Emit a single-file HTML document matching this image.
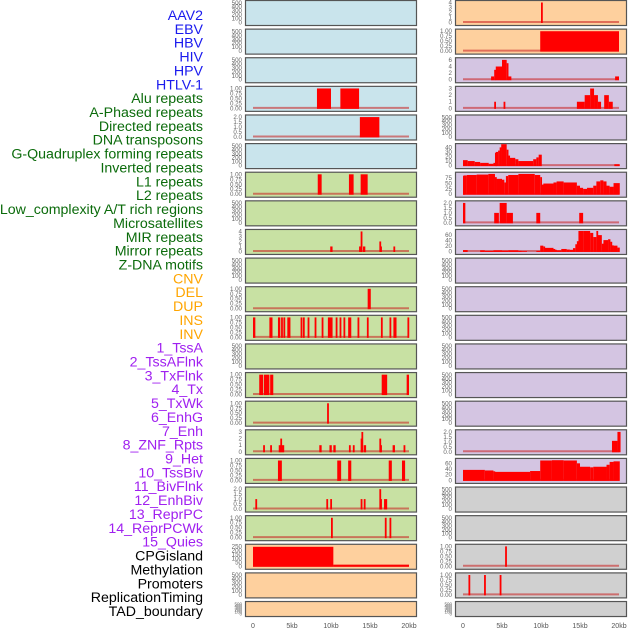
<!DOCTYPE html>
<html><head><meta charset="utf-8"><style>
html,body{margin:0;padding:0;background:#fff;width:630px;height:630px;overflow:hidden}
svg{display:block;font-family:"Liberation Sans",sans-serif}
</style></head><body>
<svg id="chart" width="630" height="630" viewBox="0 0 630 630"></svg>
<script>
const labels=["AAV2","EBV","HBV","HIV","HPV","HTLV-1","Alu repeats","A-Phased repeats","Directed repeats","DNA transposons","G-Quadruplex forming repeats","Inverted repeats","L1 repeats","L2 repeats","Low_complexity A/T rich regions","Microsatellites","MIR repeats","Mirror repeats","Z-DNA motifs","CNV","DEL","DUP","INS","INV","1_TssA","2_TssAFlnk","3_TxFlnk","4_Tx","5_TxWk","6_EnhG","7_Enh","8_ZNF_Rpts","9_Het","10_TssBiv","11_BivFlnk","12_EnhBiv","13_ReprPC","14_ReprPCWk","15_Quies","CPGisland","Methylation","Promoters","ReplicationTiming","TAD_boundary"];
const labelColors=[].concat(Array(6).fill("#1a1aee"),Array(13).fill("#0b6b0b"),Array(5).fill("#ffa500"),Array(15).fill("#a020f0"),Array(5).fill("#000"));
const xTicks=[0,5,10,15,20];
const xTickLabels=["0","5kb","10kb","15kb","20kb"];
const T500=[0,100,200,300,400,500],T1=[0,0.25,0.5,0.75,1],T2=[0,0.5,1,1.5,2];
// left column segments [startKb,endKb,value]
const L_HIV=[[8.2,10.0,1],[11.2,13.6,1]];
const L_HPV=[[13.7,16.2,2]];
const L_L1=[[8.3,8.8,1],[12.3,12.9,1],[13.8,14.7,1]];
const L_LowCx=[[9.9,10.2,1],[13.6,13.8,1],[13.8,14.0,4],[14.1,14.4,1],[16.2,16.3,2],[16.3,16.4,1],[18.0,18.2,1]];
const L_MIR=[[14.7,15.1,1]];
const L_ZDNA=[[0,0.3,1],[2.1,2.5,1],[3.2,3.5,1],[3.6,3.8,1],[3.9,4.1,1],[4.4,4.8,1],[6.1,6.3,1],[6.4,6.6,1],[7.0,7.2,1],[7.9,8.1,1],[8.8,9.0,1],[9.6,10.2,1],[10.6,10.8,1],[11.1,11.3,1],[11.6,11.8,1],[12.2,12.6,1],[13.4,13.6,1],[14.6,14.8,1],[16.4,16.6,1],[17.5,17.7,1],[18.0,18.4,1],[19.8,20,1]];
const L_DEL=[[0.8,1.3,1],[1.4,2.1,1],[2.2,2.6,1],[16.5,17.2,1],[19.7,20,1]];
const L_DUP=[[9.5,9.7,1]];
const L_INS=[[1.3,1.5,1],[2.2,2.4,1],[3.3,3.5,1],[3.5,3.6,2],[3.7,4.0,1],[8.5,8.8,1],[9.8,10.1,1],[10.3,10.6,1],[12.3,12.5,1],[12.8,13.0,1],[13.8,13.9,2],[13.9,14.0,3],[14.2,14.5,1],[16.2,16.3,2],[16.3,16.4,1],[17.9,18.2,1],[19.3,19.5,1]];
const L_INV=[[3.2,3.7,1],[10.8,11.3,1],[12.2,12.6,1],[17.4,17.8,1],[19.1,19.5,1]];
const L_TssA=[[0.3,0.5,1],[9.4,9.6,1],[9.9,10.1,1],[13.8,14.0,1],[14.2,14.4,1],[16.2,16.3,2],[16.3,16.5,1],[16.8,17.2,1]];
const L_TssAF=[[10.0,10.2,1],[16.9,17.1,1],[17.5,17.7,1]];
const L_TxF=[[0,10.3,245],[10.3,20,20]];
// right column segments
const R_0=[[10.0,10.2,4]];
const R_1=[[9.9,20,1]];
const R_2=[[3.6,4.0,1],[4.0,4.2,3],[4.2,5.0,4],[5.0,5.6,6],[5.6,5.8,5],[5.8,6.2,1],[19.5,20,1]];
const R_3=[[4.0,4.2,1],[5.2,5.4,1],[14.6,15.6,1],[15.6,16.3,2],[16.3,16.8,3],[16.8,17.3,2],[17.3,17.7,1],[18.1,18.7,2],[18.7,19.2,1]];
const R_5=[[0,0.6,12],[0.6,1.5,10],[1.5,2.2,8],[2.2,3.3,6],[3.3,3.9,4],[3.9,4.1,6],[4.1,4.2,28],[4.2,4.5,30],[4.5,4.7,33],[4.7,4.9,40],[4.9,5.6,47],[5.6,5.8,35],[5.8,6.0,22],[6.0,6.7,17],[6.7,7.1,14],[7.1,9.0,10],[9.0,9.4,14],[9.4,9.7,18],[9.7,10.1,24],[19.4,20.1,3]];
const R_6=[[0,0.05,85],[0.05,0.5,88],[0.5,1.75,90],[1.75,3.25,92],[3.25,4.1,95],[4.1,4.3,80],[4.3,5.0,72],[5.0,5.3,68],[5.3,5.5,55],[5.5,5.8,85],[5.8,7.1,90],[7.1,9.2,95],[9.2,9.9,90],[9.9,10.1,80],[10.1,10.3,45],[10.3,11.6,50],[11.6,12.0,55],[12.0,12.9,60],[12.9,14.6,55],[14.6,15.0,40],[15.0,15.4,30],[15.4,15.9,25],[15.9,16.7,30],[16.7,17.1,40],[17.1,17.6,60],[17.6,18.0,65],[18.0,18.4,60],[18.4,18.8,40],[18.8,19.3,35],[19.3,20.1,52]];
const R_7=[[0,0.3,2],[4.0,4.6,1],[4.7,5.6,2],[5.6,6.4,1],[9.4,9.9,1],[14.9,15.4,1]];
const R_8=[[0,0.6,5],[2.2,2.8,4],[2.8,3.9,2],[3.9,5.0,4],[5.0,5.8,3],[5.8,7.1,4],[7.1,7.5,2],[7.5,8.2,1],[9.4,9.9,2],[9.9,10.3,21],[10.3,10.5,18],[10.5,11.6,13],[11.6,11.8,9],[11.8,12.0,6],[12.0,12.6,4],[12.6,13.3,9],[13.3,13.7,7],[13.7,14.1,6],[14.1,14.4,12],[14.4,14.6,26],[14.6,14.8,37],[14.8,15.4,74],[15.4,16.3,74],[16.3,16.7,67],[16.7,17.1,52],[17.1,17.3,74],[17.3,17.8,59],[17.8,18.0,28],[18.0,18.6,41],[18.6,18.9,44],[18.9,19.1,35],[19.1,19.3,22],[19.3,19.8,21],[19.8,20.1,14]];
const R_15=[[19.1,19.8,1.1],[19.8,20.2,2]];
const R_16=[[0,2.8,37],[2.8,3.9,35],[3.9,4.1,32],[4.1,8.6,30],[8.6,9.9,33],[9.9,11.4,70],[11.4,12.9,71],[12.9,14.6,70],[14.6,15.0,60],[15.0,16.3,48],[16.3,16.7,46],[16.7,18.4,48],[18.4,18.8,55],[18.8,19.3,65],[19.3,20.1,67]];
const R_19=[[5.4,5.6,1]];
const R_20=[[0.7,0.9,1],[2.7,2.9,1],[4.7,4.9,1]];

const BLUE="#c9e4ec",GREEN="#c8e1a3",ORANGE="#fed09e",PURPLE="#d4c5e2",GREY="#d0d0d0";
// [col,row,bg,ticks,vmax,segments,tickDecimals]
const panelSpecs=[
[0,0,BLUE,T500,520,null,0],[0,1,BLUE,T500,520,null,0],[0,2,BLUE,T500,520,null,0],
[0,3,BLUE,T1,1.03,L_HIV,2],[0,4,BLUE,T2,2.06,L_HPV,1],[0,5,BLUE,T500,520,null,0],
[0,6,GREEN,T1,1.03,L_L1,2],[0,7,GREEN,T500,520,null,0],[0,8,GREEN,[0,1,2,3,4],4.1,L_LowCx,0],
[0,9,GREEN,T500,520,null,0],[0,10,GREEN,T1,1.03,L_MIR,2],[0,11,GREEN,T1,1.03,L_ZDNA,2],
[0,12,GREEN,T500,520,null,0],[0,13,GREEN,T1,1.03,L_DEL,2],[0,14,GREEN,T1,1.03,L_DUP,2],
[0,15,GREEN,[0,1,2,3],3.1,L_INS,0],[0,16,GREEN,T1,1.03,L_INV,2],[0,17,GREEN,T2,2.06,L_TssA,1],
[0,18,GREEN,T1,1.03,L_TssAF,2],[0,19,ORANGE,[0,50,100,150,200,250],258,L_TxF,0],
[0,20,ORANGE,T500,520,null,0],[0,21,ORANGE,T500,520,null,0],
[1,0,ORANGE,[0,1,2,3,4],4.1,R_0,0],[1,1,ORANGE,T1,1.03,R_1,2],[1,2,PURPLE,[0,2,4,6],6.2,R_2,0],
[1,3,PURPLE,[0,1,2,3],3.1,R_3,0],[1,4,PURPLE,T500,520,null,0],[1,5,PURPLE,[0,10,20,30,40],45,R_5,0],
[1,6,PURPLE,[0,25,50,75],96,R_6,0],[1,7,PURPLE,T2,2.06,R_7,1],[1,8,PURPLE,[0,20,40,60],74,R_8,0],
[1,9,PURPLE,T500,520,null,0],[1,10,PURPLE,T500,520,null,0],[1,11,PURPLE,T500,520,null,0],
[1,12,PURPLE,T500,520,null,0],[1,13,PURPLE,T500,520,null,0],[1,14,PURPLE,T500,520,null,0],
[1,15,PURPLE,T2,2.06,R_15,1],[1,16,PURPLE,[0,20,40,60],72,R_16,0],
[1,17,GREY,T500,520,null,0],[1,18,GREY,T500,520,null,0],[1,19,GREY,T1,1.03,R_19,2],
[1,20,GREY,T1,1.03,R_20,2],[1,21,GREY,T500,520,null,0]
];
const NS="http://www.w3.org/2000/svg";
const svg=document.getElementById("chart");
function mk(tag,attrs,parent){const e=document.createElementNS(NS,tag);for(const k in attrs)e.setAttribute(k,attrs[k]);(parent||svg).appendChild(e);return e;}
function xScale(col,kb){return (col?463:253)+kb*7.8;}
function rowTop(r){return r*28.62;}
function rowH(r){return r===21?15:25;}

labels.forEach((t,i)=>{
  const e=mk("text",{x:203,y:15+i*13.86+5,"text-anchor":"end","font-size":"14.2",fill:labelColors[i]});
  e.textContent=t;
  
  
});

panelSpecs.forEach(p=>{
  const [col,row,bg,ticks,vmax,segs,dec]=p;
  const T=rowTop(row),H=rowH(row),px=col?455:245,W=171;
  const g=mk("g",{});
  
  
  const r=mk("rect",{x:px+0.5,y:T+0.5,width:W,height:H,fill:bg,stroke:"#555","stroke-width":"1.2"},g);
  
  
  const top=T+2,bot=T+H-2.5;
  const y=v=>bot-(v/vmax)*(bot-top);
  ticks.forEach(tv=>{
    const tt=mk("text",{x:px-3,y:y(tv)+2,"text-anchor":"end","font-size":H<20?"4.5":"6.2",fill:"#666"},g);
    tt.textContent=dec?tv.toFixed(dec):String(tv);
    
    
  });
  if(segs){
    const bl=mk("line",{x1:xScale(col,0),x2:xScale(col,20),y1:bot-0.5,y2:bot-0.5,stroke:"rgba(200,30,30,0.55)","stroke-width":"2"},g);
    
    
    segs.forEach(s=>{
      const x1=xScale(col,s[0]),x2=Math.max(xScale(col,s[1]),x1+1.8);
      const yt=Math.max(y(s[2]),T+1);
      const b=mk("rect",{x:x1,y:yt,width:x2-x1,height:bot-yt+0.5,fill:"#ff0000"},g);
      
      
    });
  }
});
[0,1].forEach(col=>{
  xTicks.forEach((k,i)=>{
    const t=mk("text",{x:xScale(col,k),y:628,"text-anchor":"middle","font-size":"7",fill:"#555"});
    t.textContent=xTickLabels[i];
    
    
  });
});
</script>
</body></html>
